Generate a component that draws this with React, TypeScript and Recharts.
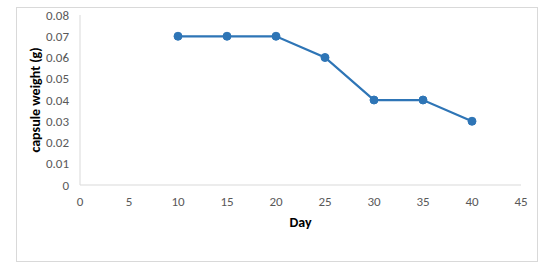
import { LineChart, Line, XAxis, YAxis } from 'recharts';

const days = [10, 15, 20, 25, 30, 35, 40];
const weights = [0.07, 0.07, 0.07, 0.06, 0.04, 0.04, 0.03];
const xTicks = [0, 5, 10, 15, 20, 25, 30, 35, 40, 45];
const yTicks = [0, 0.01, 0.02, 0.03, 0.04, 0.05, 0.06, 0.07, 0.08];

const data = days.map((d, i) => ({ day: d, weight: weights[i] }));

const FONT = 'Carlito, "Open Sans", "Liberation Sans", sans-serif';
const tickStyle = { fill: '#595959', fontSize: 13, fontFamily: FONT };

export default function App() {
  return (
    <div style={{ position: 'absolute', left: 0, top: 0, width: 550, height: 269, background: '#fff' }}>
      {/* outer frame */}
      <div
        style={{
          position: 'absolute',
          left: 16,
          top: 7,
          width: 520,
          height: 253,
          border: '1px solid #d9d9d9',
        }}
      />
      <div style={{ position: 'absolute', left: 0, top: 0 }}>
        <LineChart width={550} height={269} data={data} margin={{ top: 15, right: 29, bottom: 54, left: 16 }}>
          <XAxis
            type="number"
            dataKey="day"
            domain={[0, 45]}
            ticks={xTicks}
            height={30}
            tickLine={false}
            tickMargin={6}
            stroke="#d9d9d9"
            tick={tickStyle}
            label={{ value: 'Day', position: 'bottom', offset: 2, fill: '#000', fontSize: 14, fontWeight: 'bold', fontFamily: FONT }}
          />
          <YAxis
            type="number"
            domain={[0, 0.08]}
            ticks={yTicks}
            width={64}
            tickLine={false}
            tickMargin={5}
            stroke="#d9d9d9"
            tick={tickStyle}
            tickFormatter={(v: number) => (v === 0 ? '0' : v.toFixed(2))}
            label={{ value: 'capsule weight (g)', angle: -90, position: 'insideLeft', offset: 19, style: { textAnchor: 'middle' }, fill: '#000', fontSize: 14, fontWeight: 'bold', fontFamily: FONT }}
          />
          <Line
            type="linear"
            dataKey="weight"
            stroke="#2e75b6"
            strokeWidth={2.25}
            dot={{ r: 4, fill: '#2e75b6', stroke: '#2e75b6', strokeWidth: 1 }}
            isAnimationActive={false}
          />
        </LineChart>
      </div>
    </div>
  );
}
